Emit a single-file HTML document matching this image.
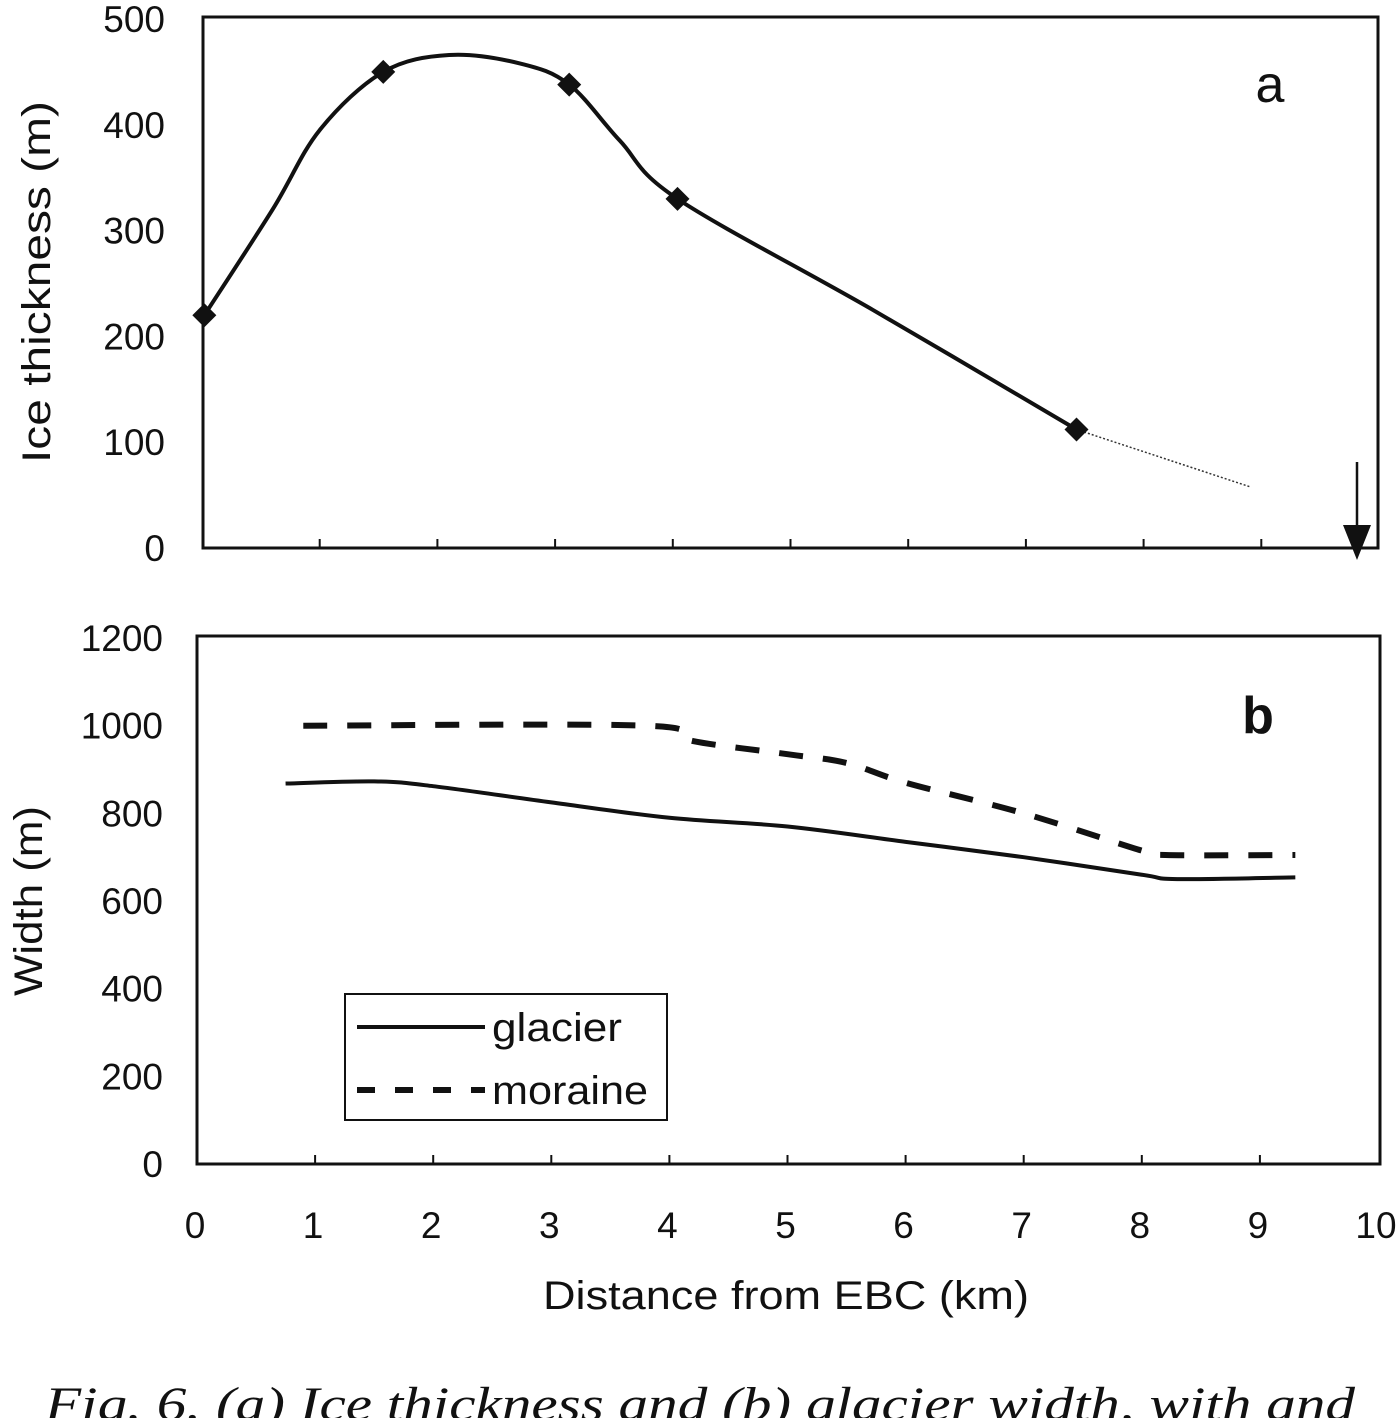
<!DOCTYPE html>
<html><head><meta charset="utf-8"><style>
body{margin:0;background:#fff;width:1400px;height:1418px;overflow:hidden}
svg text{font-family:"Liberation Sans",sans-serif;fill:#111}
</style></head><body>
<svg width="1400" height="1418">
<g id="pa"></g>
<g id="pb"></g>
<text x="45" y="1420" font-size="48" font-style="italic" textLength="1310" lengthAdjust="spacingAndGlyphs" style="font-family:'Liberation Serif',serif">Fig. 6. (a) Ice thickness and (b) glacier width, with and</text>
</svg>
<script>
const thickX=[0.02,1.54,3.12,4.04,7.43];
const thickY=[220,450,438,330,112];
const curveX=[0.02,0.6,1.0,1.54,2.1,2.7,3.12,3.55,4.04,5.7,7.43];
const curveY=[220,320,395,450,466,458,438,385,330,225,112];
const extX=[7.43,8.9];
const extY=[112,58];
const glacierX=[0.75,1.5,2,3,4,5,6,7,8,8.3,9.3];
const glacierY=[868,873,862,825,790,770,735,700,660,650,654];
const moraineX=[0.9,3.8,4.2,5,5.5,6,7,8,8.2,9.3];
const moraineY=[1000,1000,965,935,915,870,800,715,705,705];
const xTicks=[0,1,2,3,4,5,6,7,8,9,10];
const aTicks=[0,100,200,300,400,500];
const bTicks=[0,200,400,600,800,1000,1200];
const NS="http://www.w3.org/2000/svg";
function mk(p,t,a){const e=document.createElementNS(NS,t);for(const k in a)e.setAttribute(k,a[k]);p.appendChild(e);return e;}
const pa=document.getElementById('pa'),pb=document.getElementById('pb');
const xa=v=>202+v*117.7, ya=v=>548-v*1.058;
const xb=v=>197+v*118.1, yb=v=>1164-v*0.4383;
function spline(xs,ys,fx,fy){let p=[];for(let i=0;i<xs.length;i++)p.push([fx(xs[i]),fy(ys[i])]);
 let d='M'+p[0][0]+','+p[0][1];
 for(let i=0;i<p.length-1;i++){const p0=p[Math.max(0,i-1)],p1=p[i],p2=p[i+1],p3=p[Math.min(p.length-1,i+2)];
 d+=' C'+(p1[0]+(p2[0]-p0[0])/6)+','+(p1[1]+(p2[1]-p0[1])/6)+' '+(p2[0]-(p3[0]-p1[0])/6)+','+(p2[1]-(p3[1]-p1[1])/6)+' '+p2[0]+','+p2[1];}
 return d;}
let e=mk(pa,'rect',{x:203,y:17,width:1175,height:531,fill:'none',stroke:'#111','stroke-width':3});


aTicks.forEach(v=>{const t=mk(pa,'text',{x:165,y:ya(v)+13,'font-size':37,'text-anchor':'end'});t.textContent=v;

});
xTicks.forEach(v=>{if(v>0&&v<10){const l=mk(pa,'line',{x1:xa(v),x2:xa(v),y1:548,y2:539,stroke:'#111','stroke-width':2});

}});
e=mk(pa,'text',{transform:'translate(50,282) rotate(-90)','font-size':40,'text-anchor':'middle',textLength:362,lengthAdjust:'spacingAndGlyphs'});e.textContent='Ice thickness (m)';


e=mk(pa,'path',{d:spline(curveX,curveY,xa,ya),fill:'none',stroke:'#111','stroke-width':4});


e=mk(pa,'line',{x1:xa(extX[0]),y1:ya(extY[0]),x2:xa(extX[1]),y2:ya(extY[1]),stroke:'#333','stroke-width':1.5,'stroke-dasharray':'2,2'});


thickX.forEach((v,i)=>{const x=xa(v),y=ya(thickY[i]);const m=mk(pa,'path',{d:`M${x},${y-12}L${x+12},${y}L${x},${y+12}L${x-12},${y}Z`,fill:'#111'});

});
e=mk(pa,'text',{x:1270,y:102,'font-size':52,'text-anchor':'middle'});e.textContent='a';


e=mk(pa,'line',{x1:1357,y1:462,x2:1357,y2:535,stroke:'#111','stroke-width':2.5});


e=mk(pa,'path',{d:'M1343,525L1371,525L1357,560Z',fill:'#111'});


e=mk(pb,'rect',{x:197,y:636,width:1183,height:528,fill:'none',stroke:'#111','stroke-width':3});


bTicks.forEach(v=>{const t=mk(pb,'text',{x:163,y:yb(v)+13,'font-size':37,'text-anchor':'end'});t.textContent=v;

});
xTicks.forEach(v=>{if(v>0&&v<10){const l=mk(pb,'line',{x1:xb(v),x2:xb(v),y1:1164,y2:1155,stroke:'#111','stroke-width':2});

}
const t=mk(pb,'text',{x:xb(v)-2,y:1238,'font-size':37,'text-anchor':'middle'});t.textContent=v;

});
e=mk(pb,'text',{x:786,y:1309,'font-size':40,'text-anchor':'middle',textLength:486,lengthAdjust:'spacingAndGlyphs'});e.textContent='Distance from EBC (km)';


e=mk(pb,'text',{transform:'translate(42,901) rotate(-90)','font-size':40,'text-anchor':'middle',textLength:190,lengthAdjust:'spacingAndGlyphs'});e.textContent='Width (m)';


e=mk(pb,'path',{d:spline(glacierX,glacierY,xb,yb),fill:'none',stroke:'#111','stroke-width':4});


e=mk(pb,'path',{d:spline(moraineX,moraineY,xb,yb),fill:'none',stroke:'#111','stroke-width':6,'stroke-dasharray':'24,20'});


e=mk(pb,'text',{x:1258,y:733,'font-size':52,'text-anchor':'middle','font-weight':'bold'});e.textContent='b';


e=mk(pb,'rect',{x:345,y:994,width:322,height:126,fill:'#fff',stroke:'#111','stroke-width':2});


e=mk(pb,'line',{x1:357,y1:1027,x2:485,y2:1027,stroke:'#111','stroke-width':4});


e=mk(pb,'text',{x:492,y:1041,'font-size':40,textLength:130,lengthAdjust:'spacingAndGlyphs'});e.textContent='glacier';


e=mk(pb,'line',{x1:357,y1:1090,x2:485,y2:1090,stroke:'#111','stroke-width':6,'stroke-dasharray':'18,20'});


e=mk(pb,'text',{x:492,y:1104,'font-size':40,textLength:156,lengthAdjust:'spacingAndGlyphs'});e.textContent='moraine';


</script>
</body></html>
